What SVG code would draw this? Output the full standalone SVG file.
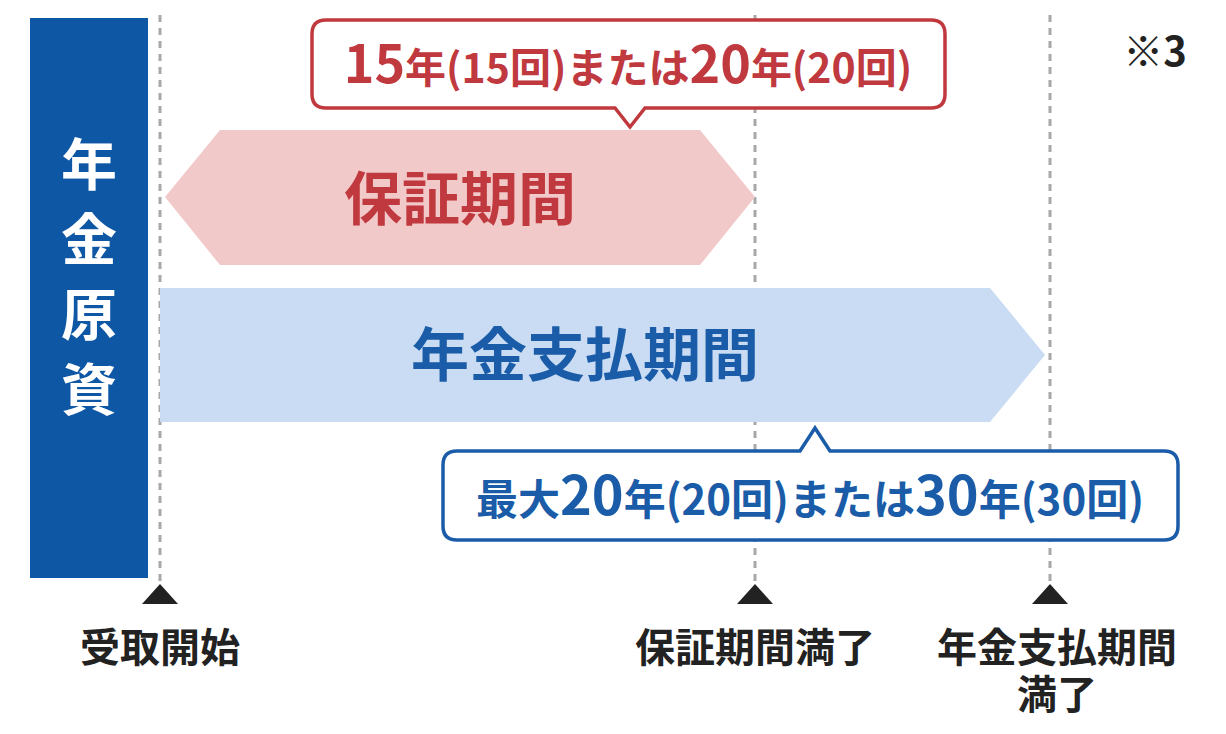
<svg xmlns="http://www.w3.org/2000/svg" width="1226" height="734" viewBox="0 0 1226 734">
<style>
text{font-family:"Noto Sans CJK JP","Noto Sans",sans-serif;font-weight:bold}
.dash{stroke:#a8a8a8;stroke-width:3;stroke-dasharray:7 6;fill:none}
.tri{fill:#222}
.lbl{font-size:40px;fill:#222;text-anchor:middle}
</style>
<rect width="1226" height="734" fill="#fff"/>
<g id="connectors">
<line class="dash" x1="160" y1="15" x2="160" y2="590"/>
<line class="dash" x1="755" y1="15" x2="755" y2="590"/>
<line class="dash" x1="1050" y1="15" x2="1050" y2="590"/>
<polygon class="tri" points="160,584 142,604 178,604"/>
<polygon class="tri" points="755,584 737,604 773,604"/>
<polygon class="tri" points="1050,584 1032,604 1068,604"/>
</g>
<g id="genshi">
<rect x="30" y="18" width="118" height="560" fill="#0d57a5"/>
<text x="89" y="185" font-size="56" fill="#fff" text-anchor="middle">年</text>
<text x="89" y="260" font-size="56" fill="#fff" text-anchor="middle">金</text>
<text x="89" y="335" font-size="56" fill="#fff" text-anchor="middle">原</text>
<text x="89" y="410" font-size="56" fill="#fff" text-anchor="middle">資</text>
</g>
<g id="hosho">
<polygon points="165,197 220,130 700,130 755,197 700,265 220,265" fill="#f2c9c9"/>
<text x="460" y="220" font-size="58" fill="#c0393f" text-anchor="middle">保証期間</text>
</g>
<g id="shiharai">
<polygon points="160,288 990,288 1045,355 990,422 160,422" fill="#c9dcf3"/>
<text x="585" y="376" font-size="58" fill="#1a5ca8" text-anchor="middle">年金支払期間</text>
</g>
<g id="callout-red">
<path d="M326,20 H931 Q945,20 945,34 V94 Q945,108 931,108 H645 L630,127 L615,108 H326 Q312,108 312,94 V34 Q312,20 326,20 Z" fill="#fff" stroke="#c0393f" stroke-width="3.5"/>
<text x="628" y="83" fill="#c0393f" text-anchor="middle" font-size="41"><tspan font-size="52">15</tspan>年(15回)または<tspan font-size="52">20</tspan>年(20回)</text>
</g>
<g id="callout-blue">
<path d="M457,451 H800 L815,428 L830,451 H1164 Q1178,451 1178,465 V526 Q1178,540 1164,540 H457 Q443,540 443,526 V465 Q443,451 457,451 Z" fill="#fff" stroke="#1a5ca8" stroke-width="3.5"/>
<text x="810" y="515" fill="#1a5ca8" text-anchor="middle" font-size="42">最大<tspan font-size="54">20</tspan>年(20回)または<tspan font-size="54">30</tspan>年(30回)</text>
</g>
<g id="labels">
<text class="lbl" x="160" y="662">受取開始</text>
<text class="lbl" x="755" y="662">保証期間満了</text>
<text class="lbl" x="1057" y="662">年金支払期間</text>
<text class="lbl" x="1057" y="709">満了</text>
<text x="1155" y="66" font-size="40" fill="#222" text-anchor="middle" font-weight="normal">※3</text>
</g>
</svg>
